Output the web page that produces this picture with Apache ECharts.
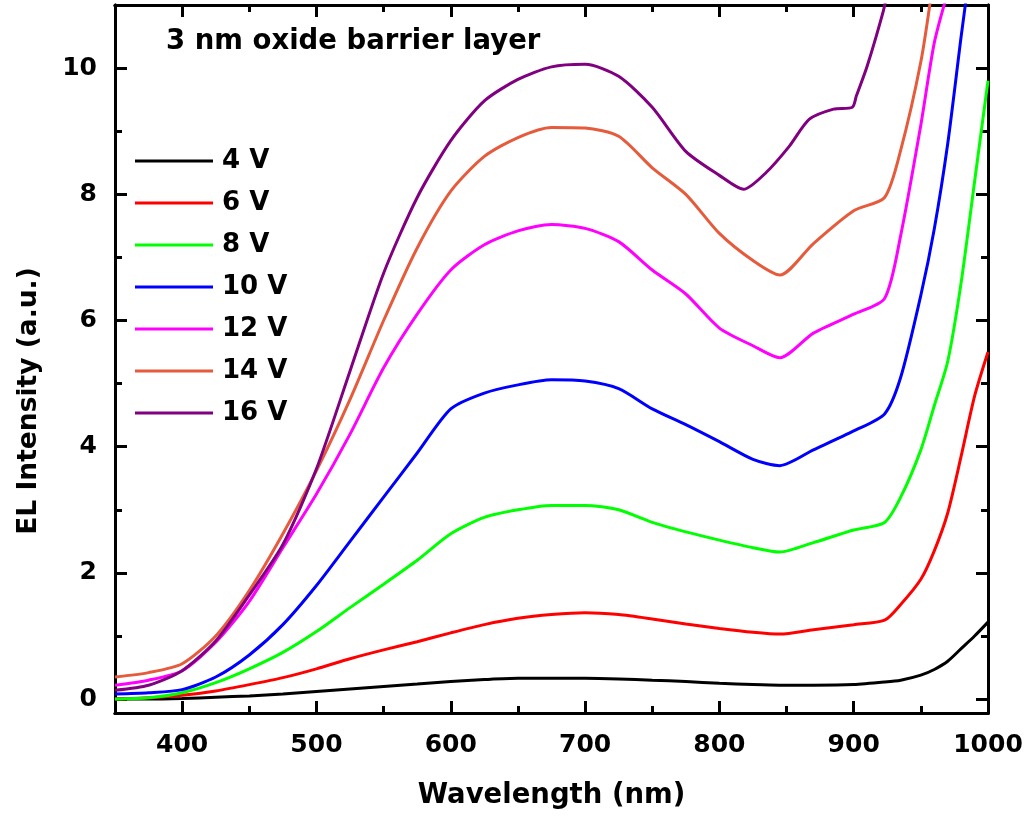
<!DOCTYPE html>
<html>
<head>
<meta charset="utf-8">
<script src="https://cdn.jsdelivr.net/npm/echarts@6/dist/echarts.min.js"></script>
<style>
html,body{margin:0;padding:0;background:#fff;}
#chart{width:1031px;height:825px;}
</style>
</head>
<body>
<div id="chart"></div>
<script>
// ---- Data ----
const seriesNames = ['4 V', '6 V', '8 V', '10 V', '12 V', '14 V', '16 V'];
const seriesColors = ['#000000', '#FF0000', '#00FF00', '#0000FF', '#FF00FF', '#E55B3C', '#800080'];

const wlCommon = [350,375,400,425,450,475,500,525,550,575,600,625,650,675,700,725,750,775,800,825,845,870,900,923,935,950,960,970,980,990,1000];

const wl4 = wlCommon;
const v4  = [0.00,0.00,0.01,0.03,0.05,0.08,0.12,0.16,0.20,0.24,0.28,0.31,0.33,0.33,0.33,0.32,0.30,0.28,0.25,0.23,0.22,0.22,0.23,0.27,0.30,0.38,0.47,0.60,0.80,1.00,1.22];

const wl6 = wlCommon;
const v6  = [0.00,0.02,0.06,0.13,0.23,0.34,0.48,0.64,0.78,0.91,1.05,1.18,1.28,1.34,1.37,1.34,1.27,1.19,1.12,1.06,1.03,1.10,1.18,1.25,1.50,1.90,2.35,2.95,3.85,4.80,5.50];

const wl8 = wlCommon;
const v8  = [0.00,0.02,0.10,0.26,0.48,0.74,1.07,1.45,1.82,2.20,2.62,2.88,3.00,3.07,3.07,3.00,2.80,2.65,2.52,2.40,2.33,2.48,2.68,2.80,3.20,3.95,4.65,5.35,6.60,8.20,9.80];

const wl10 = [350,375,400,425,450,475,500,525,550,575,600,625,650,675,700,725,750,775,800,825,845,870,900,923,935,950,960,970,980,985];
const v10  = [0.08,0.10,0.15,0.35,0.70,1.18,1.80,2.50,3.20,3.90,4.60,4.85,4.98,5.06,5.04,4.92,4.60,4.35,4.08,3.80,3.70,3.95,4.25,4.52,5.10,6.40,7.45,8.80,10.50,11.30];

const wl12 = [350,375,400,425,450,475,500,525,550,575,600,625,650,675,700,725,750,775,800,825,845,870,900,923,935,950,960,970];
const v12  = [0.22,0.30,0.45,0.90,1.55,2.40,3.25,4.20,5.25,6.10,6.80,7.20,7.42,7.52,7.46,7.25,6.80,6.42,5.88,5.60,5.41,5.80,6.10,6.35,7.35,9.10,10.40,11.20];

const wl14 = [350,375,400,425,450,475,500,525,550,575,600,625,650,675,700,725,750,775,800,825,845,870,900,923,935,950,958];
const v14  = [0.35,0.42,0.56,1.00,1.72,2.62,3.62,4.75,6.00,7.15,8.05,8.60,8.90,9.06,9.05,8.92,8.42,8.00,7.38,6.95,6.72,7.22,7.74,7.95,8.70,10.10,11.20];

const wl16 = [350,375,400,425,450,475,500,525,550,575,600,625,650,675,700,725,750,775,800,818,835,852,867,885,899,902,910,922,925];
const v16  = [0.14,0.22,0.45,0.92,1.65,2.45,3.65,5.20,6.75,7.95,8.85,9.48,9.82,10.02,10.06,9.87,9.38,8.68,8.30,8.08,8.35,8.76,9.19,9.35,9.38,9.56,10.03,10.90,11.20];

const xMajorTicks = [400,500,600,700,800,900,1000];
const xMinorTicks = [450,550,650,750,850,950];
const yMajorTicks = [0,2,4,6,8,10];
const yMinorTicks = [1,3,5,7,9];

const xRange = [350, 1000];
const yRange = [-0.22, 11];

const titleText = '3 nm oxide barrier layer';
const xTitle = 'Wavelength (nm)';
const yTitle = 'EL Intensity (a.u.)';

// ---- Build ----
const wls = [wl4, wl6, wl8, wl10, wl12, wl14, wl16];
const vals = [v4, v6, v8, v10, v12, v14, v16];
const FONT = 'DejaVu Sans';

const axisLineStyle = { onZero: false, lineStyle: { color: '#000', width: 3 } };

function xAx(position, ticks, len, showLabel) {
  return {
    type: 'value', min: xRange[0], max: xRange[1], position: position,
    axisLine: axisLineStyle,
    axisTick: { show: true, inside: true, length: len, customValues: ticks, lineStyle: { color: '#000', width: 3 } },
    axisLabel: showLabel ? { show: true, customValues: ticks, margin: 20, color: '#000', fontFamily: FONT, fontWeight: 'bold', fontSize: 25, formatter: v => String(v) } : { show: false, customValues: ticks },
    splitLine: { show: false },
    name: (showLabel ? xTitle : ''), nameLocation: 'middle', nameGap: 69,
    nameTextStyle: { color: '#000', fontFamily: FONT, fontWeight: 'bold', fontSize: 27.5 }
  };
}
function yAx(position, ticks, len, showLabel) {
  return {
    type: 'value', min: yRange[0], max: yRange[1], position: position,
    axisLine: axisLineStyle,
    axisTick: { show: true, inside: true, length: len, customValues: ticks, lineStyle: { color: '#000', width: 3 } },
    axisLabel: showLabel ? { show: true, customValues: ticks, margin: 18, color: '#000', fontFamily: FONT, fontWeight: 'bold', fontSize: 25, formatter: v => String(v) } : { show: false, customValues: ticks },
    splitLine: { show: false }
  };
}

const series = seriesNames.map((n, i) => ({
  name: n, type: 'line', xAxisIndex: 0, yAxisIndex: 0,
  data: wls[i].map((x, j) => [x, vals[i][j]]),
  showSymbol: false, symbol: 'none', smooth: 0.25, clip: true,
  lineStyle: { color: seriesColors[i], width: 3 },
  itemStyle: { color: seriesColors[i] },
  z: 2 + i
}));

const chart = echarts.init(document.getElementById('chart'), null, { renderer: 'canvas' });
chart.setOption({
  animation: false,
  backgroundColor: '#ffffff',
  grid: { left: 115, right: 43, top: 5, bottom: 112, containLabel: false },
  xAxis: [
    xAx('bottom', xMajorTicks, 12, true),
    xAx('bottom', xMinorTicks, 7, false),
    xAx('top', xMajorTicks, 12, false),
    xAx('top', xMinorTicks, 7, false)
  ],
  yAxis: [
    yAx('left', yMajorTicks, 12, true),
    yAx('left', yMinorTicks, 7, false),
    yAx('right', yMajorTicks, 12, false),
    yAx('right', yMinorTicks, 7, false)
  ],
  legend: {
    orient: 'vertical', left: 130, top: 143,
    icon: 'rect', itemWidth: 78, itemHeight: 3, itemGap: 16,
    data: seriesNames,
    textStyle: { color: '#000', fontFamily: FONT, fontWeight: 'bold', fontSize: 26, padding: [0, 0, 0, 4] }
  },
  graphic: [
    { type: 'text', left: 166, top: 28, style: { text: titleText, fill: '#000', font: 'bold 27.5px "DejaVu Sans"' } },
    { type: 'text', x: 29, y: 401, rotation: Math.PI / 2, style: { text: yTitle, fill: '#000', font: 'bold 26.5px "DejaVu Sans"', align: 'center', verticalAlign: 'middle' } }
  ],
  series: series
});
</script>
</body>
</html>
